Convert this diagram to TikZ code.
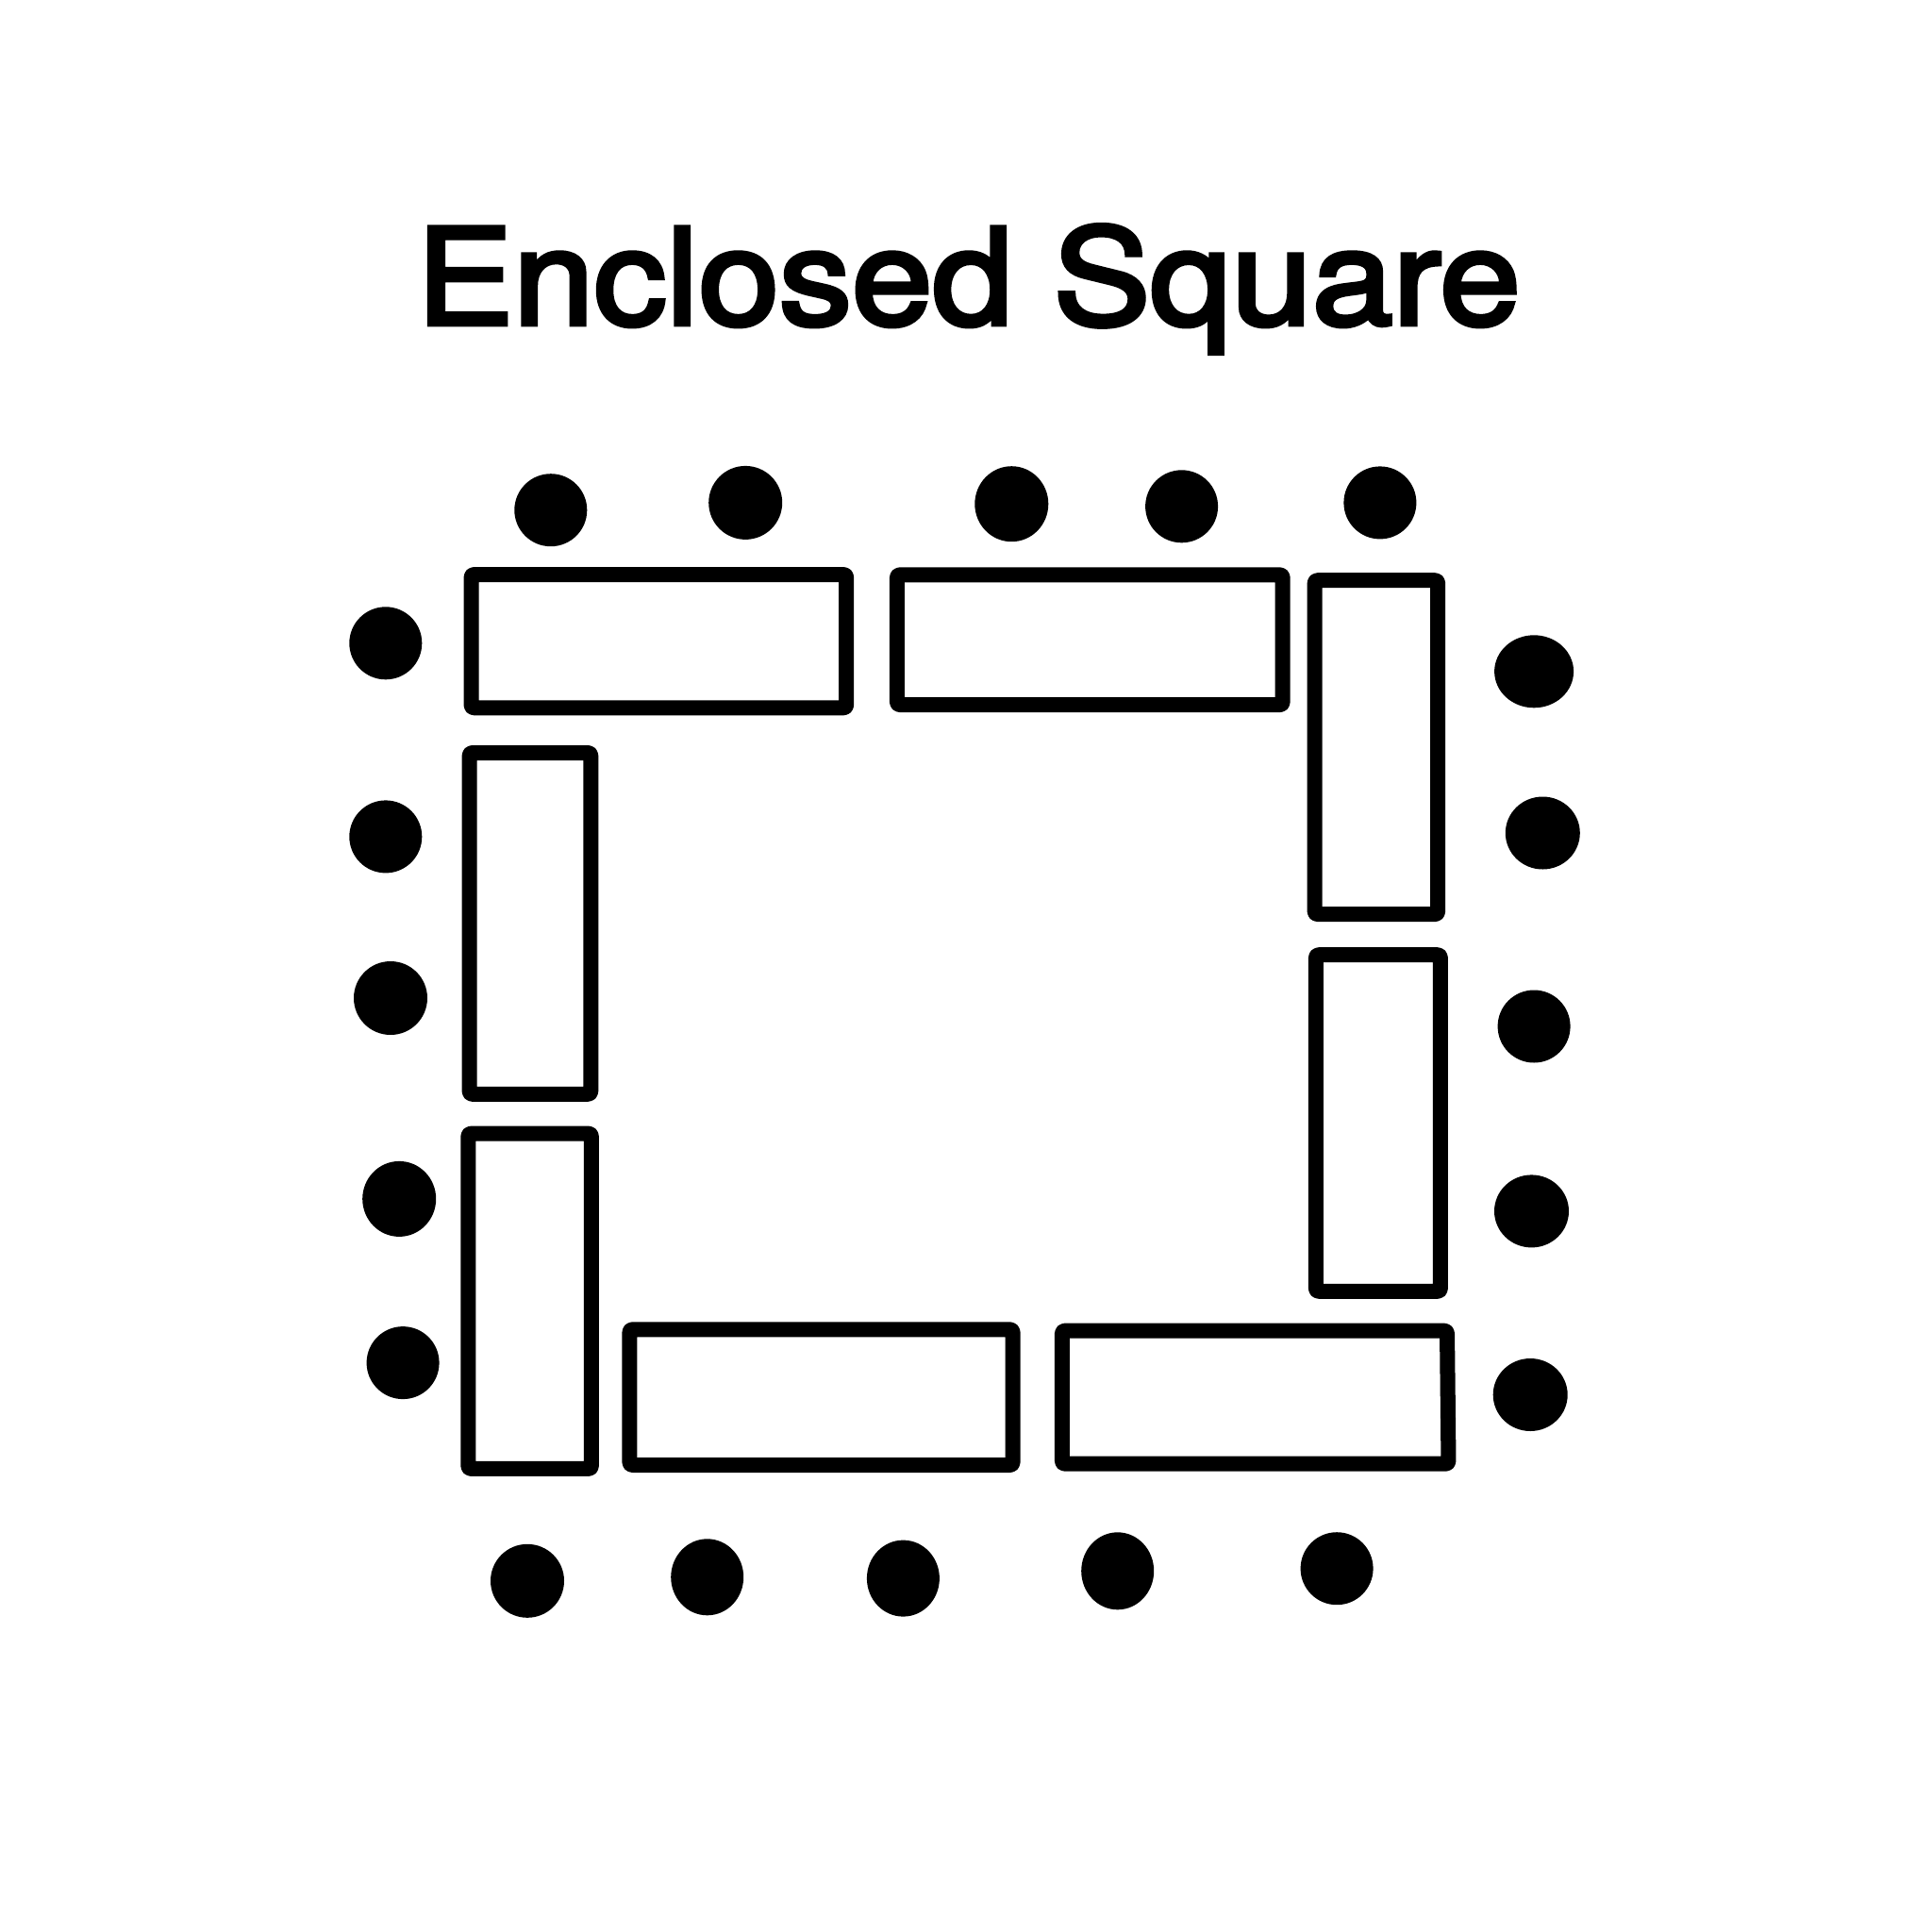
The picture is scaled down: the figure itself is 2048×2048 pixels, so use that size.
\documentclass[tikz,border=0pt]{standalone}
\usepackage{fontspec}
\newfontfamily\titlefont[FakeBold=3.3]{TeX Gyre Heros}
\begin{document}
\begin{tikzpicture}[x=0.01cm,y=-0.01cm,
  table/.style={draw=black,line width=0.16cm,line join=round,rounded corners=0.03cm},
  seat/.style={fill=black}]
\useasboundingbox[fill=white] (0,0) rectangle (2048,2048);
% title
\node[anchor=base,inner sep=0pt,font=\titlefont\fontsize{40.3pt}{48pt}\selectfont] (title) at (1026.6,344) {\scalebox{1.085}[1]{Enclosed Square}};
% tables
\draw[table] (499.5,609) rectangle (897.2,750.3);
\draw[table] (950.9,609.3) rectangle (1359.7,747.1);
\draw[table] (1393.6,615.2) rectangle (1524.2,969.1);
\draw[table] (497.6,798) rectangle (626.3,1159.8);
\draw[table] (496.3,1201.6) rectangle (626.9,1556.9);
\draw[table] (1394.9,1012.2) rectangle (1526.9,1368.8);
\draw[table] (667.4,1409.3) rectangle (1073.6,1553);
\draw[table] (1125.9,1410.6) -- (1534,1410.6) -- (1535.5,1551.7) -- (1125.9,1551.7) -- cycle;
% seats top
\fill[seat] (583.8,540.7) circle [radius=38.5];
\fill[seat] (790.2,532.9) circle [radius=39];
\fill[seat] (1072.3,534.2) ellipse [x radius=39,y radius=40];
\fill[seat] (1252.6,536.8) circle [radius=38.5];
\fill[seat] (1462.9,532.9) circle [radius=38.5];
% seats left
\fill[seat] (408.8,681.8) circle [radius=38.5];
\fill[seat] (408.8,886.9) circle [radius=38.5];
\fill[seat] (414,1058) circle [radius=39];
\fill[seat] (423.2,1270.9) ellipse [x radius=39,y radius=40];
\fill[seat] (427.1,1444.6) circle [radius=38.5];
% seats right
\fill[seat] (1626.1,711.8) ellipse [x radius=42,y radius=38.5];
\fill[seat] (1635.3,883) ellipse [x radius=39.5,y radius=38.5];
\fill[seat] (1626.1,1088) circle [radius=38.5];
\fill[seat] (1623.5,1283.9) ellipse [x radius=39.5,y radius=38.5];
\fill[seat] (1622.2,1478.5) ellipse [x radius=39.5,y radius=38.5];
% seats bottom
\fill[seat] (559,1675.8) circle [radius=39];
\fill[seat] (749.7,1671.8) ellipse [x radius=38.5,y radius=40.5];
\fill[seat] (957.4,1673.1) ellipse [x radius=38.5,y radius=40.5];
\fill[seat] (1184.7,1665.3) ellipse [x radius=38.5,y radius=41];
\fill[seat] (1417.1,1662.7) circle [radius=38.5];
\end{tikzpicture}
\end{document}
